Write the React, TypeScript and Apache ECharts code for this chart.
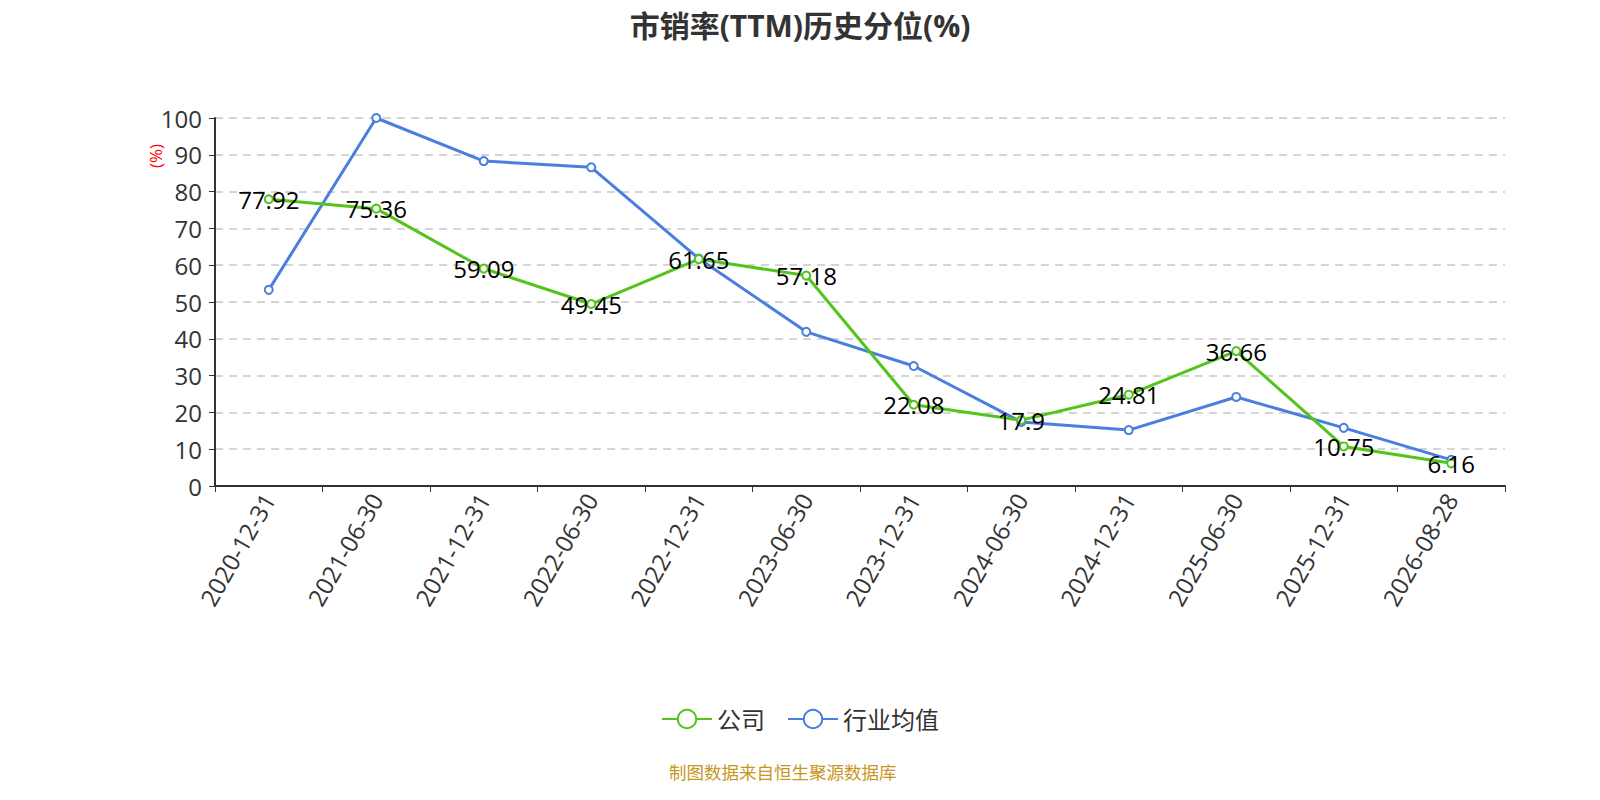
import React, { useEffect, useRef } from "react";
import * as echarts from "echarts";

const categories = [
  "2020-12-31", "2021-06-30", "2021-12-31", "2022-06-30", "2022-12-31", "2023-06-30",
  "2023-12-31", "2024-06-30", "2024-12-31", "2025-06-30", "2025-12-31", "2026-08-28",
];
const companyValues = [77.92, 75.36, 59.09, 49.45, 61.65, 57.18, 22.08, 17.9, 24.81, 36.66, 10.75, 6.16];
const industryValues = [53.3, 100, 88.3, 86.6, 61.8, 41.9, 32.6, 17.4, 15.2, 24.2, 15.8, 7.1];
const yTicks = { min: 0, max: 100, interval: 10 };

export default function App() {
  const ref = useRef<HTMLDivElement>(null);
  useEffect(() => {
    if (!ref.current) return;
    const chart = echarts.init(ref.current, undefined, { renderer: "svg" });
    const font = "'Open Sans', 'Noto Sans CJK SC', sans-serif";
    chart.setOption({
      animation: false,
      textStyle: { fontFamily: font },
      title: {
        text: "市销率(TTM)历史分位(%)",
        left: "center",
        top: 2,
        padding: [0, 0, 0, 0],
        textStyle: { fontSize: 30, fontWeight: "bold", color: "#333", fontFamily: font, lineHeight: 30 },
      },
      legend: {
        bottom: 56,
        left: "center",
        itemWidth: 50,
        itemHeight: 23,
        itemGap: 22,
        textStyle: { fontSize: 24, color: "#333", fontFamily: font },
        data: ["公司", "行业均值"],
      },
      grid: { left: 207, right: 87, top: 110, bottom: 306 },
      xAxis: {
        type: "category",
        data: categories,
        boundaryGap: true,
        axisLine: { lineStyle: { color: "#333", width: 2 } },
        axisTick: { show: true, alignWithLabel: false, length: 6, lineStyle: { color: "#333" } },
        axisLabel: { rotate: 60, fontSize: 24, color: "#333", margin: 9, interval: 0, fontFamily: font },
      },
      yAxis: {
        type: "value",
        min: yTicks.min,
        max: yTicks.max,
        interval: yTicks.interval,
        axisLine: { show: true, lineStyle: { color: "#333", width: 2 } },
        axisTick: { show: true, length: 6, lineStyle: { color: "#333" } },
        axisLabel: { fontSize: 24, color: "#333", margin: 13, fontFamily: font },
        splitLine: { lineStyle: { type: [8, 6], color: "#c8c8c8", width: 1.5 } },
      },
      graphic: [
        {
          type: "text",
          x: 139,
          y: 160,
          rotation: Math.PI / 2,
          style: { text: "(%)", fill: "red", fontSize: 17, fontFamily: font },
        },
        {
          type: "text",
          left: 661,
          top: 755,
          style: { text: "制图数据来自恒生聚源数据库", fill: "#c8961e", fontSize: 17.5, fontFamily: font },
        },
      ],
      series: [
        {
          name: "公司",
          type: "line",
          data: companyValues,
          symbol: "emptyCircle",
          symbolSize: 8,
          color: "#52c41a",
          lineStyle: { width: 3, color: "#52c41a" },
          itemStyle: { color: "#52c41a", borderWidth: 2 },
          label: {
            show: true,
            position: "inside",
            fontSize: 24,
            color: "#000",
            fontFamily: font,
          },
          z: 3,
        },
        {
          name: "行业均值",
          type: "line",
          data: industryValues,
          symbol: "emptyCircle",
          symbolSize: 8,
          color: "#4a7fe0",
          lineStyle: { width: 3, color: "#4a7fe0" },
          itemStyle: { color: "#4a7fe0", borderWidth: 2 },
          z: 2,
        },
      ],
    });
    return () => chart.dispose();
  }, []);
  return <div ref={ref} style={{ width: 1584, height: 784 }} />;
}
